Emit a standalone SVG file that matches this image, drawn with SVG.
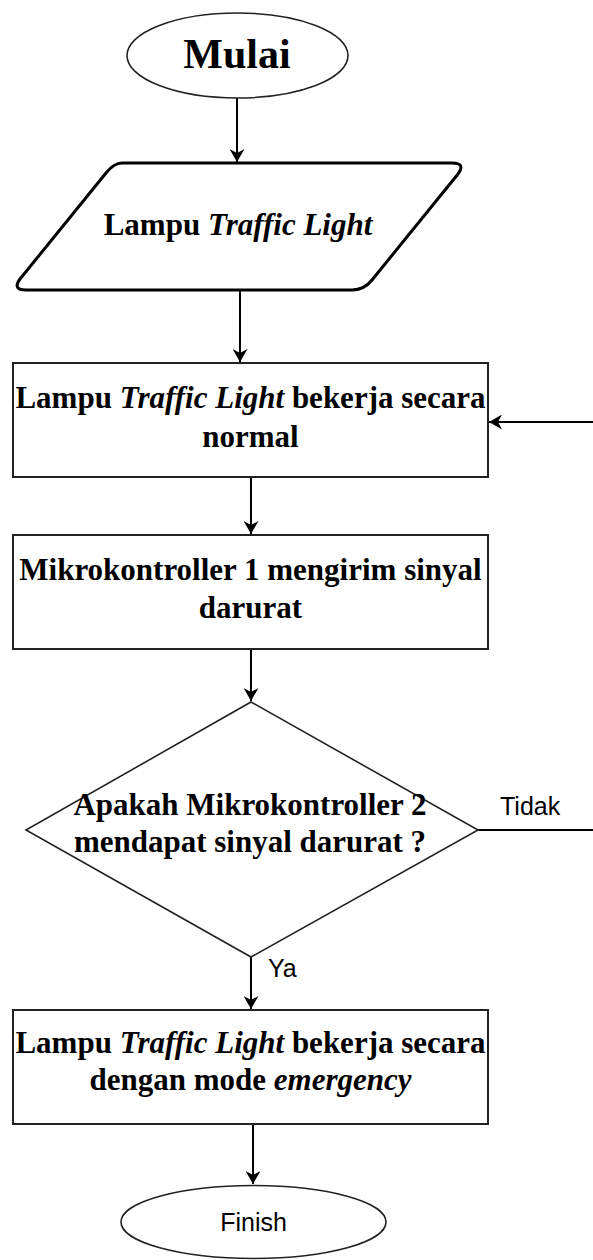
<svg xmlns="http://www.w3.org/2000/svg" width="593" height="1260" viewBox="0 0 593 1260">
<style>
.bt{font-family:"Liberation Serif","Times New Roman",serif;font-weight:bold;font-size:31px;fill:#000;text-anchor:middle}
.big{font-size:42px}
.it{font-style:italic}
.lb{font-family:"Liberation Sans",Arial,sans-serif;font-size:25px;fill:#000}
.box{fill:#fff;stroke:#222;stroke-width:2}
.ell{fill:#fff;stroke:#222;stroke-width:1.6}
.edge{fill:none;stroke:#000;stroke-width:2}
</style>
<defs>
<marker id="ah" markerUnits="userSpaceOnUse" viewBox="0 0 13 15" refX="13" refY="7.5" markerWidth="13" markerHeight="15" orient="auto">
<path d="M0,0 L13,7.5 L0,15 L4,7.5 Z" fill="#000"/>
</marker>
</defs>
<rect width="593" height="1260" fill="#fff"/>
<g id="connectors">
<line class="edge" x1="237" y1="98" x2="237" y2="162" marker-end="url(#ah)"/>
<line class="edge" x1="240" y1="291" x2="240" y2="362" marker-end="url(#ah)"/>
<line class="edge" x1="251" y1="477" x2="251" y2="534" marker-end="url(#ah)"/>
<line class="edge" x1="251" y1="649" x2="251" y2="701" marker-end="url(#ah)"/>
<line class="edge" x1="251" y1="957" x2="251" y2="1009" marker-end="url(#ah)"/>
<line class="edge" x1="253" y1="1124" x2="253" y2="1184" marker-end="url(#ah)"/>
<polyline class="edge" points="478,830 610,830 610,422 489,422" marker-end="url(#ah)"/>
<text class="lb" x="500" y="815">Tidak</text>
<text class="lb" x="268" y="977">Ya</text>
</g>
<g id="mulai">
<ellipse class="ell" cx="237.5" cy="55.5" rx="110.5" ry="42.5"/>
<text class="bt big" x="237" y="68">Mulai</text>
</g>
<g id="input">
<path d="M122,163 L452,163 Q466,163 458,174 L372,280 Q364,290 352,290 L26,290 Q12,290 20,279 L106,173 Q114,163 122,163 Z" fill="#fff" stroke="#000" stroke-width="3"/>
<text class="bt" x="238" y="235">Lampu <tspan class="it">Traffic Light</tspan></text>
</g>
<g id="normal">
<rect class="box" x="13" y="363" width="475" height="114"/>
<text class="bt" x="250.5" y="408">Lampu <tspan class="it">Traffic Light</tspan> bekerja secara</text>
<text class="bt" x="250.5" y="447">normal</text>
</g>
<g id="kirim">
<rect class="box" x="13" y="535" width="475" height="114"/>
<text class="bt" x="250.5" y="580">Mikrokontroller 1 mengirim sinyal</text>
<text class="bt" x="250.5" y="618">darurat</text>
</g>
<g id="decision">
<polygon points="251,702 478,830 251,957 26,830" fill="#fff" stroke="#222" stroke-width="1.6"/>
<text class="bt" x="250" y="815">Apakah Mikrokontroller 2</text>
<text class="bt" x="250" y="852">mendapat sinyal darurat ?</text>
</g>
<g id="emergency">
<rect class="box" x="13" y="1010" width="475" height="114"/>
<text class="bt" x="250.5" y="1053">Lampu <tspan class="it">Traffic Light</tspan> bekerja secara</text>
<text class="bt" x="250.5" y="1090">dengan mode <tspan class="it">emergency</tspan></text>
</g>
<g id="finish">
<ellipse class="ell" cx="253.5" cy="1222" rx="132.5" ry="36.5"/>
<text class="lb" x="253.5" y="1231" text-anchor="middle">Finish</text>
</g>
</svg>
